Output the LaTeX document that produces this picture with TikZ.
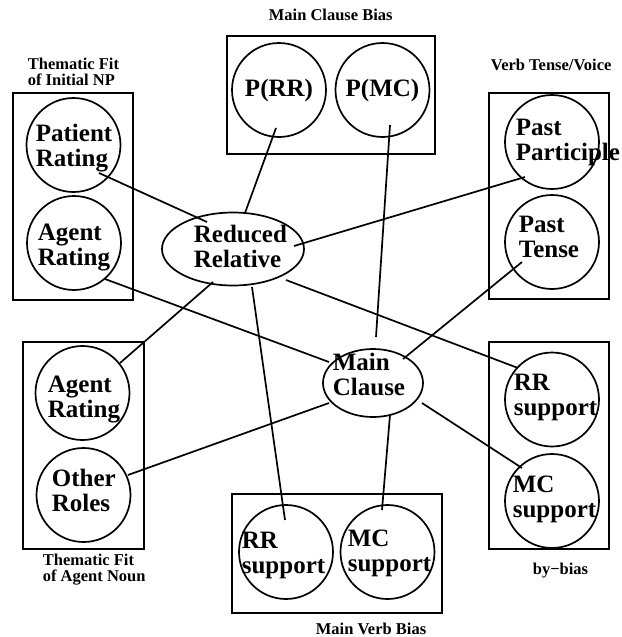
\documentclass[tikz,border=0pt]{standalone}
\usepackage{fontspec}
\setmainfont{Liberation Serif}
\usetikzlibrary{shapes.geometric,calc}

\begin{document}
\begin{tikzpicture}[x=1pt,y=-1pt,line width=1.7pt,
  unit/.style={circle,draw,minimum size=94pt,inner sep=0pt},
  hub/.style={ellipse,draw,inner sep=0pt},
  big/.style={font=\fontsize{25}{25}\selectfont\bfseries,align=left,inner sep=0pt,anchor=north west},
  small/.style={font=\fontsize{16.5}{16.5}\selectfont\bfseries,align=left,inner sep=0pt,anchor=north west}]
\useasboundingbox (0,0) rectangle (621,637);
\draw[line width=2.2pt] (13,93) rectangle (133,300);
\draw[line width=2.2pt] (227,36) rectangle (435,154);
\draw[line width=2.2pt] (489,93) rectangle (609,299);
\draw[line width=2.2pt] (23,342) rectangle (144,549);
\draw[line width=2.2pt] (232,494) rectangle (442,613);
\draw[line width=2.2pt] (489,342) rectangle (609,549);
\node[small] (np-lbl) at (27,57) {Thematic Fit\\of Initial NP};
\node[small] (mcb-lbl) at (268,8) {Main Clause Bias};
\node[small] (vt-lbl) at (490,58) {Verb Tense/Voice};
\node[small] (an-lbl) at (42,553) {Thematic Fit\\of Agent Noun};
\node[small] (mvb-lbl) at (315,622) {Main Verb Bias};
\node[small] (by-lbl) at (532,562) {by−bias};
\node[unit] (pr) at (73.5,145) {};
\node[unit] (ar1) at (74,243) {};
\node[unit,font=\fontsize{25}{25}\selectfont\bfseries] (prr) at (279,90) {P(RR)};
\node[unit,font=\fontsize{25}{25}\selectfont\bfseries] (pmc) at (382.5,90) {P(MC)};
\node[unit] (pp) at (552,142) {};
\node[unit] (pt) at (552,242) {};
\node[unit] (ar2) at (82.5,393) {};
\node[unit] (or) at (83.5,495) {};
\node[unit] (rrs1) at (286,552) {};
\node[unit] (mcs1) at (387.5,552) {};
\node[unit] (rrs2) at (552,399.5) {};
\node[unit] (mcs2) at (552,501) {};
\node[hub,minimum width=142pt,minimum height=73pt] (rr) at (233,249) {};
\node[hub,minimum width=100pt,minimum height=68pt] (mc) at (373,383) {};
\node[big] (pr-t) at (35,123) {Patient\\Rating};
\node[big] (ar1-t) at (37,223) {Agent\\Rating};
\node[big] (pp-t) at (515,118) {Past\\Participle};
\node[big] (pt-t) at (518,215) {Past\\Tense};
\node[big] (ar2-t) at (47,375) {Agent\\Rating};
\node[big] (or-t) at (51,468) {Other\\Roles};
\node[big] (rrs1-t) at (241,531) {RR\\support};
\node[big] (mcs1-t) at (347,529) {MC\\support};
\node[big] (rrs2-t) at (513,373) {RR\\support};
\node[big] (mcs2-t) at (512,475) {MC\\support};
\node[big] (rr-t) at (193,224) {Reduced\\Relative};
\node[big] (mc-t) at (332,352) {Main\\Clause};
\draw ($(pr)+(25.5,28)$) -- ($(rr)+(-26,-27)$);
\draw ($(ar1)+(31,36)$) -- ($(mc)+(-44,-21)$);
\draw ($(prr)+(-3,38)$) -- ($(rr)+(12,-36)$);
\draw ($(pmc)+(7.5,35)$) -- ($(mc)+(3,-46)$);
\draw ($(rr)+(61,-3)$) -- ($(pp)+(-27,35)$);
\draw ($(rr)+(53,31)$) -- ($(rrs2)+(-34,-31.5)$);
\draw ($(rr)+(-20,33)$) -- ($(ar2)+(37.5,-30)$);
\draw ($(rr)+(19,38)$) -- ($(rrs1)+(-1,-32)$);
\draw ($(pt)+(-30,20)$) -- ($(mc)+(30,-24)$);
\draw ($(or)+(44.5,-20)$) -- ($(mc)+(-44,20)$);
\draw ($(mc)+(17,32)$) -- ($(mcs1)+(-5.5,-42)$);
\draw ($(mc)+(49,20)$) -- ($(mcs2)+(-30,-33)$);
\end{tikzpicture}
\end{document}
